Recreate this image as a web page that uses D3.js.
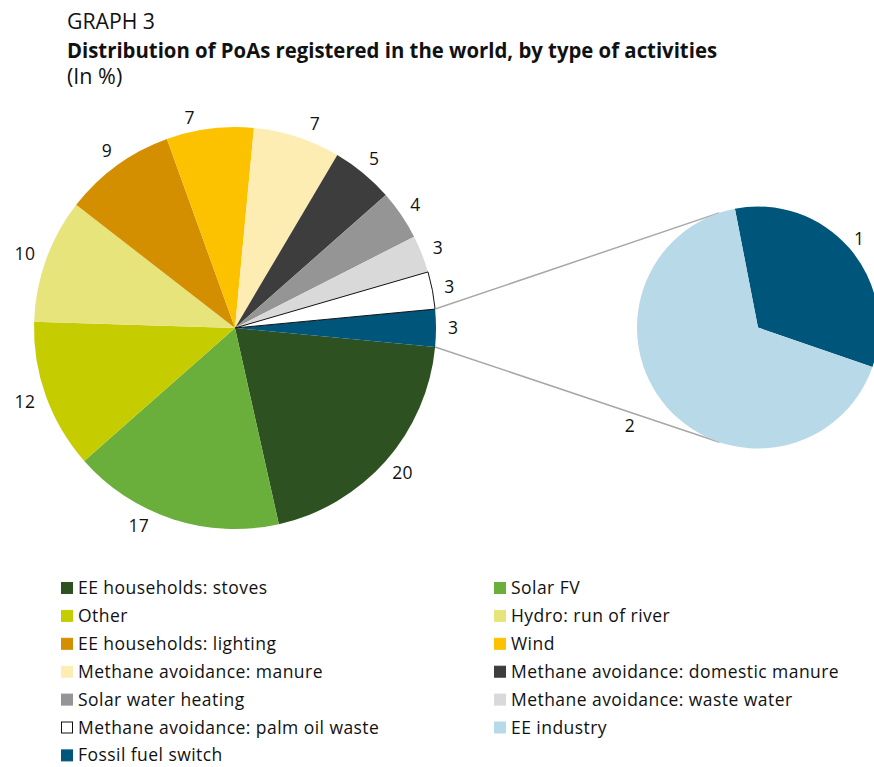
<!DOCTYPE html>
<html>
<head>
<meta charset="utf-8">
<script src="https://cdn.jsdelivr.net/npm/d3@7"></script>
<style>
  html, body { margin: 0; padding: 0; background: #fff; }
  svg { display: block; font-family: "Open Sans", "Noto Sans", sans-serif; }
</style>
</head>
<body>
<svg id="chart" width="874" height="767"></svg>
<script>
// Share of registered PoAs by type of activity (%), primary pie
const mainCategories = [
  "EE households: stoves",
  "Solar FV",
  "Other",
  "Hydro: run of river",
  "EE households: lighting",
  "Wind",
  "Methane avoidance: manure",
  "Methane avoidance: domestic manure",
  "Solar water heating",
  "Methane avoidance: waste water",
  "Methane avoidance: palm oil waste"
];
const mainValues = [20, 17, 12, 10, 9, 7, 7, 5, 4, 3, 3];

// Small activities grouped into one slice and broken out in the secondary pie
const detailCategories = ["Fossil fuel switch", "EE industry"];
const detailValues = [1, 2];

// Legend entries, read row by row across two columns
const legendOrder = [
  "EE households: stoves", "Solar FV",
  "Other", "Hydro: run of river",
  "EE households: lighting", "Wind",
  "Methane avoidance: manure", "Methane avoidance: domestic manure",
  "Solar water heating", "Methane avoidance: waste water",
  "Methane avoidance: palm oil waste", "EE industry",
  "Fossil fuel switch"
];

const palette = {
  "EE households: stoves": "#2d5121",
  "Solar FV": "#6aae3c",
  "Other": "#c5cc00",
  "Hydro: run of river": "#e6e47a",
  "EE households: lighting": "#d38f00",
  "Wind": "#fcc200",
  "Methane avoidance: manure": "#feedb3",
  "Methane avoidance: domestic manure": "#3d3d3d",
  "Solar water heating": "#959595",
  "Methane avoidance: waste water": "#d9d9d9",
  "Methane avoidance: palm oil waste": "#ffffff",
  "EE industry": "#b8d9e8",
  "Fossil fuel switch": "#00557a"
};
const GROUP = "__group__";
palette[GROUP] = palette["Fossil fuel switch"];

// ---- layout ----
const svg = d3.select("#chart");
const deg = Math.PI / 180;
const main = { cx: 235, cy: 328, r: 201, labelGap: 12 };
const detail = { cx: 758, cy: 327.5, r: 121, labelGap: 8, firstMid: 49 };
// angular (deg) / radial (px) adjustments for a few crowded labels
const labelNudge = {
  "Solar FV": { da: 7.5, dr: 0 },
  "Wind": { da: -5, dr: -4 },
  "Methane avoidance: manure": { da: 3.5, dr: 0 },
  "EE industry": { da: 3.7, dr: 27 }
};

// ---- titles ----
function fitText(sel, width) {
  const len = sel.node().getComputedTextLength();
  if (Math.abs(len - width) / width > 0.02) {
    sel.attr("textLength", width).attr("lengthAdjust", "spacingAndGlyphs");
  }
}
const titleG = svg.append("g").attr("fill", "#111");
const t1 = titleG.append("text").attr("x", 67).attr("y", 29)
  .attr("font-size", 22).attr("font-weight", 400).text("GRAPH 3");
fitText(t1, 88);
const t2 = titleG.append("text").attr("x", 67).attr("y", 57.5)
  .attr("font-size", 21.5).attr("font-weight", 700)
  .text("Distribution of PoAs registered in the world, by type of activities");
fitText(t2, 650);
const t3 = titleG.append("text").attr("x", 67).attr("y", 84)
  .attr("font-size", 21.5).attr("font-weight", 400).text("(In %)");
fitText(t3, 55);

// ---- primary pie ----
const groupTotal = d3.sum(detailValues);
const mainData = mainCategories.map((c, i) => ({ key: c, value: mainValues[i] }))
  .concat([{ key: GROUP, value: groupTotal }]);
const total = d3.sum(mainData, d => d.value);
// grouped slice is centred on 3 o'clock
const start = Math.PI / 2 + (groupTotal / total) * Math.PI;
const mainPie = d3.pie().sort(null).value(d => d.value)
  .startAngle(start).endAngle(start + 2 * Math.PI);
const mainArcs = mainPie(mainData);
const mainArc = d3.arc().innerRadius(0).outerRadius(main.r);

const gMain = svg.append("g").attr("transform", `translate(${main.cx},${main.cy})`);
gMain.selectAll("path").data(mainArcs).join("path")
  .attr("d", mainArc)
  .attr("fill", d => palette[d.data.key])
  .attr("stroke", d => d.data.key === "Methane avoidance: palm oil waste" ? "#111" : "none")
  .attr("stroke-width", 1)
  .attr("stroke-linejoin", "round");
// redraw outlined slice on top so its border is not covered
gMain.selectAll("path").filter(d => d.data.key === "Methane avoidance: palm oil waste").raise();

// ---- secondary pie ----
const detailData = detailCategories.map((c, i) => ({ key: c, value: detailValues[i] }));
const firstFrac = detailValues[0] / d3.sum(detailValues);
const dStart = detail.firstMid * deg - firstFrac * Math.PI;
const detailPie = d3.pie().sort(null).value(d => d.value)
  .startAngle(dStart).endAngle(dStart + 2 * Math.PI);
const detailArcs = detailPie(detailData);
const detailArc = d3.arc().innerRadius(0).outerRadius(detail.r);

// connector lines: from the grouped slice edge, tangent to the secondary pie
const grp = mainArcs.find(d => d.data.key === GROUP);
function polar(cx, cy, r, a) { return [cx + r * Math.sin(a), cy - r * Math.cos(a)]; }
const pTop = polar(main.cx, main.cy, main.r, grp.startAngle);
const pBot = polar(main.cx, main.cy, main.r, grp.endAngle);
function tangent(p, sign) {
  const dx = p[0] - detail.cx, dy = p[1] - detail.cy;
  const d = Math.hypot(dx, dy);
  const base = Math.atan2(dy, dx);
  const a = base + sign * Math.acos(detail.r / d);
  return [detail.cx + detail.r * Math.cos(a), detail.cy + detail.r * Math.sin(a)];
}
const lines = [[pTop, tangent(pTop, 1)], [pBot, tangent(pBot, -1)]];
svg.append("g").selectAll("line").data(lines).join("line")
  .attr("x1", d => d[0][0]).attr("y1", d => d[0][1])
  .attr("x2", d => d[1][0]).attr("y2", d => d[1][1])
  .attr("stroke", "#a8a8a8").attr("stroke-width", 1.5);

const gDetail = svg.append("g").attr("transform", `translate(${detail.cx},${detail.cy})`);
gDetail.selectAll("path").data(detailArcs).join("path")
  .attr("d", detailArc)
  .attr("fill", d => palette[d.data.key]);

// ---- value labels ----
const fmt = d3.format(".0f");
function placeLabels(g, arcs, cfg) {
  const labels = g.selectAll("text.val").data(arcs).join("text")
    .attr("class", "val")
    .attr("font-size", 17.5)
    .attr("letter-spacing", 0.3)
    .attr("fill", "#111")
    .attr("text-anchor", "middle")
    .attr("dy", "0.35em")
    .text(d => fmt(d.value));
  labels.each(function (d) {
    const n = labelNudge[d.data.key] || { da: 0, dr: 0 };
    const a = (d.startAngle + d.endAngle) / 2 + n.da * deg;
    const bb = this.getBBox();
    const r0 = cfg.r + cfg.labelGap + n.dr;
    // push the label box outward so its near corner sits at the anchor point
    const x = r0 * Math.sin(a) + Math.sin(a) * bb.width / 2;
    const y = -r0 * Math.cos(a) - Math.cos(a) * 6;
    d3.select(this).attr("x", x).attr("y", y);
  });
}
placeLabels(gMain, mainArcs, main);
placeLabels(gDetail, detailArcs, detail);

// ---- legend ----
const legend = { cols: [61, 494], y0: 594, step: 27.9, box: 12, textGap: 17 };
const lg = svg.append("g");
const items = lg.selectAll("g").data(legendOrder).join("g")
  .attr("transform", (d, i) =>
    `translate(${legend.cols[i % 2]},${legend.y0 + Math.floor(i / 2) * legend.step})`);
items.append("rect")
  .attr("x", 0.5).attr("y", -legend.box + 0.5)
  .attr("width", legend.box - 1).attr("height", legend.box - 1)
  .attr("fill", d => palette[d])
  .attr("stroke", d => d === "Methane avoidance: palm oil waste" ? "#111" : palette[d])
  .attr("stroke-width", 1);
items.append("text")
  .attr("x", legend.textGap).attr("y", 0)
  .attr("font-size", 17.5).attr("letter-spacing", 0.45).attr("fill", "#111")
  .text(d => d);
</script>
</body>
</html>
